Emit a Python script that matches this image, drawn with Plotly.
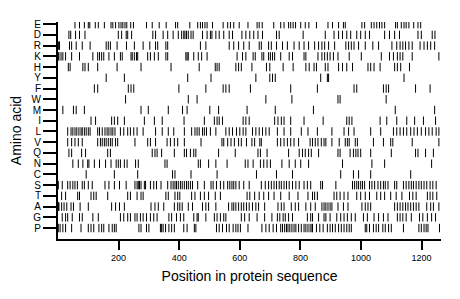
import plotly.graph_objects as go

# Amino acids from bottom (P) to top (E)
amino_acids = ["P", "G", "A", "T", "S", "C", "N", "Q", "V", "L", "I", "M", "W", "F", "Y", "H", "K", "R", "D", "E"]

pos_E = [56, 71, 87, 100, 105, 123, 133, 153, 175, 181, 190, 201, 208, 214, 221, 227, 240, 249, 292, 311, 334, 357, 388, 395,
         435, 461, 470, 477, 485, 492, 510, 545, 560, 569, 580, 598, 627, 657, 664, 674, 712, 735, 746, 761, 768, 776, 784, 801, 816, 828,
         853, 891, 906, 926, 942, 948, 1003, 1012, 1034, 1043, 1052, 1061, 1069, 1078, 1114, 1120, 1133, 1142, 1149, 1158, 1174, 1188, 1197]
pos_D = [36, 42, 58, 71, 89, 199, 210, 225, 230, 243, 313, 322, 347, 362, 380, 397, 408,
         415, 419, 424, 430, 439, 446, 477, 492, 503, 508, 521, 532, 547, 565, 576, 607, 620, 633, 646, 660, 675, 721, 730, 809,
         882, 911, 926, 939, 953, 966, 986, 999, 1014, 1028, 1078, 1094, 1111, 1127, 1188, 1199, 1235, 1244]
pos_R = [2, 5, 38, 45, 60, 80, 106, 159, 166, 173, 195, 226, 252, 281, 303, 322, 329, 356, 362,
         470, 488, 565, 580, 596, 613, 631, 664, 671, 695, 704, 721, 741, 757, 779, 796, 812, 827,
         847, 860, 871, 880, 893, 913, 950, 959, 968, 977, 992, 1014, 1039, 1058, 1102, 1118, 1129, 1138, 1147, 1158, 1169, 1195, 1208, 1219, 1230, 1243]
pos_K = [1, 3, 10, 16, 25, 45, 71, 115, 131, 137, 144, 151, 168, 186, 206, 212, 241, 245, 252, 259, 263, 296, 305, 318, 331, 356, 362,
         422, 426, 430, 448, 463, 474, 492, 591, 609, 620, 644, 651, 673, 679, 695, 701, 708, 715, 735, 763, 774, 812, 818,
         858, 871, 880, 889, 898, 909, 924, 961, 1001, 1067, 1094, 1107, 1120, 1129, 1138, 1169, 1257]
pos_H = [34, 40, 82, 89, 100, 131, 195, 274, 373,
         466, 519, 525, 532, 587, 596, 605, 640, 688, 699, 743, 776, 818, 829,
         845, 853, 882, 891, 926, 939, 953, 972, 1023, 1032, 1043, 1063, 1111, 1120, 1131, 1160]
pos_Y = [159, 219, 428, 505, 653, 699, 708, 717, 867, 889, 893, 1142]
pos_F = [120, 131, 232, 241, 250, 399, 488, 545, 554, 565, 635, 768, 856, 977, 986, 1074, 1083, 1091, 1180, 1228]
pos_W = [223, 430, 459, 686, 772, 924, 931, 1083]
pos_M = [16, 51, 60, 87, 274, 298, 364, 411, 426, 501, 530, 624, 717, 843, 1113, 1243]
pos_I = [109, 124, 177, 186, 197, 219, 285, 318, 344,
         416, 483, 516, 525, 532, 543, 611, 620, 631, 715, 726, 737, 746, 768, 812,
         875, 953, 961, 970, 1063, 1085, 1118, 1151, 1177, 1206, 1246]
pos_L = [32, 43, 49, 56, 62, 69, 76, 80, 87, 93, 100, 106, 131, 137, 146, 155, 162, 168, 175, 181, 188, 206, 217, 230, 239, 250, 261, 281, 322, 344, 364, 382,
         417, 441, 452, 459, 466, 477, 483, 490, 503, 521, 554, 565, 576, 589, 600, 611, 620, 642, 653, 664, 675, 686, 697, 724, 746, 768, 803, 825,
         856, 904, 944, 959, 977, 1032, 1065, 1107, 1118, 1129, 1140, 1151, 1164, 1175, 1186, 1199, 1213, 1224, 1235, 1248, 1257]
pos_V = [32, 45, 56, 67, 80, 131, 140, 146, 153, 159, 166, 173, 179, 190, 197, 254, 296, 305, 322, 360, 371, 384, 395,
         417, 472, 541, 547, 560, 571, 582, 596, 605, 622, 640, 649, 666, 671, 724, 735, 746, 757, 768, 779, 794, 832,
         840, 849, 858, 869, 878, 884, 904, 928, 948, 955, 961, 981, 988, 1041, 1074, 1098, 1105, 1169, 1257]
pos_Q = [36, 45, 78, 91, 164, 173, 311, 320, 327, 342, 384,
         417, 424, 437, 448, 455, 530, 585, 660, 668, 690, 761, 796, 807, 816, 827, 836,
         860, 924, 931, 964, 975, 983, 990, 999, 1032, 1100, 1180, 1188, 1213, 1239]
pos_N = [49, 67, 82, 98, 102, 120, 137, 157, 175, 192, 199, 206, 219, 228, 256, 265, 353, 360,
         463, 470, 497, 521, 558, 618, 627, 644, 668, 679, 690, 701, 739, 763, 783, 801, 827,
         939, 1036, 1078, 1233]
pos_C = [93, 186, 263, 378, 386, 439, 525, 655, 721, 774, 933, 975, 992, 1032, 1164]
pos_S = [1, 14, 32, 40, 49, 56, 64, 80, 87, 100, 113, 155, 168, 186, 203, 225, 254, 261, 265, 269, 274, 285, 289, 305, 316, 325, 340, 362, 373, 380, 386, 391, 397, 404, 410, 417,
         424, 430, 437, 444, 461, 483, 505, 512, 523, 536, 547, 560, 567, 574, 580, 587, 598, 613, 631, 671, 684, 695, 704, 713, 721, 730, 737, 746, 754, 763, 774, 785, 796, 812, 823, 834,
         867, 873, 917, 972, 979, 986, 992, 999, 1005, 1012, 1028, 1036, 1045, 1056, 1065, 1074, 1080, 1089, 1111, 1118, 1140, 1149, 1158, 1166, 1173, 1182, 1191, 1199, 1208, 1217, 1228, 1237, 1248]
pos_T = [12, 25, 65, 71, 109, 118, 126, 164, 230, 239, 261, 274, 281, 356, 364, 386, 395, 402,
         441, 452, 470, 483, 497, 519, 536, 624, 633, 649, 664, 679, 695, 713, 735, 763, 792, 825,
         840, 847, 856, 911, 920, 931, 944, 957, 986, 999, 1014, 1028, 1052, 1065, 1078, 1098, 1116, 1135, 1160, 1171, 1182, 1219, 1228, 1237, 1250]
pos_A = [1, 2, 3, 12, 20, 29, 43, 51, 73, 100, 177, 190, 203, 219, 307, 320, 331, 349, 384, 395, 402, 410,
         430, 444, 477, 488, 497, 521, 563, 574, 580, 587, 596, 605, 613, 622, 631, 642, 653, 662, 682, 726, 737, 746, 770, 783, 794, 818, 834,
         849, 871, 878, 884, 891, 898, 904, 924, 942, 957, 1003, 1014, 1023, 1032, 1111, 1120, 1129, 1138, 1147, 1155, 1164, 1173, 1182, 1191, 1217, 1230, 1239, 1257]
pos_G = [14, 25, 32, 47, 71, 80, 115, 133, 206, 217, 230, 239, 254, 261, 272, 281, 292, 305, 316, 327, 366, 375, 391, 404, 415,
         448, 459, 463, 488, 516, 525, 536, 547, 554, 605, 616, 631, 657, 682, 706, 724, 732, 743, 750, 761, 774, 823, 834, 840,
         860, 878, 884, 898, 920, 933, 944, 955, 968, 981, 1008, 1021, 1043, 1058, 1074, 1089, 1120, 1129, 1138, 1149, 1166, 1193, 1204, 1219, 1233, 1246]
pos_P = [1, 7, 16, 25, 45, 76, 100, 109, 118, 135, 144, 151, 168, 179, 186, 192, 267, 274, 292, 300, 338, 342, 347, 355, 366, 375, 384, 415,
         426, 450, 455, 523, 532, 543, 556, 565, 578, 587, 594, 602, 627, 673, 686, 697, 710, 721, 735, 741, 748, 754, 759, 765, 772, 779, 785, 794, 803, 812, 818, 825, 832, 838,
         840, 853, 864, 875, 889, 898, 906, 915, 926, 935, 944, 953, 961, 968, 1014, 1019, 1028, 1041, 1050, 1058, 1072, 1080, 1091, 1100, 1140, 1191, 1199, 1208, 1215, 1221, 1259]

positions = {"E": pos_E, "D": pos_D, "R": pos_R, "K": pos_K, "H": pos_H, "Y": pos_Y, "F": pos_F, "W": pos_W,
             "M": pos_M, "I": pos_I, "L": pos_L, "V": pos_V, "Q": pos_Q, "N": pos_N, "C": pos_C, "S": pos_S,
             "T": pos_T, "A": pos_A, "G": pos_G, "P": pos_P}

x_ticks = [200, 400, 600, 800, 1000, 1200]
seq_length = 1264

fig = go.Figure()
for i, aa in enumerate(amino_acids):
    xs = positions[aa]
    fig.add_trace(go.Scatter(
        x=xs, y=[i] * len(xs), mode="markers",
        marker=dict(symbol="line-ns", size=6, color="black",
                    line=dict(width=1, color="black")),
        showlegend=False, hoverinfo="x"))

font = "Liberation Sans, Arial, sans-serif"
# page body has an 8px default margin, so the figure is 8px smaller on each axis
fig.update_layout(
    width=452, height=291,
    margin=dict(l=50, r=19, t=14, b=60),
    paper_bgcolor="white", plot_bgcolor="white",
    font=dict(family=font, color="black"),
)
fig.update_xaxes(
    automargin=False,
    range=[0, seq_length], tickvals=x_ticks, ticktext=[str(v) for v in x_ticks],
    showgrid=False, zeroline=False, showline=True, linecolor="black", linewidth=2,
    ticks="outside", ticklen=9, tickwidth=1.5, tickcolor="black",
    tickfont=dict(size=9, family=font, color="black"),
    title=dict(text="Position in protein sequence", font=dict(size=14, family=font, color="black"), standoff=9),
)
fig.update_yaxes(
    automargin=False,
    range=[-1.02, 19.2], tickvals=list(range(len(amino_acids))), ticktext=amino_acids,
    showgrid=False, zeroline=False, showline=True, linecolor="black", linewidth=2,
    ticks="outside", ticklen=13, tickwidth=1.5, tickcolor="black",
    tickfont=dict(size=10, family=font, color="black"),
    title=dict(text="Amino acid", font=dict(size=14, family=font, color="black"), standoff=14),
)

fig.write_html("out.html")
